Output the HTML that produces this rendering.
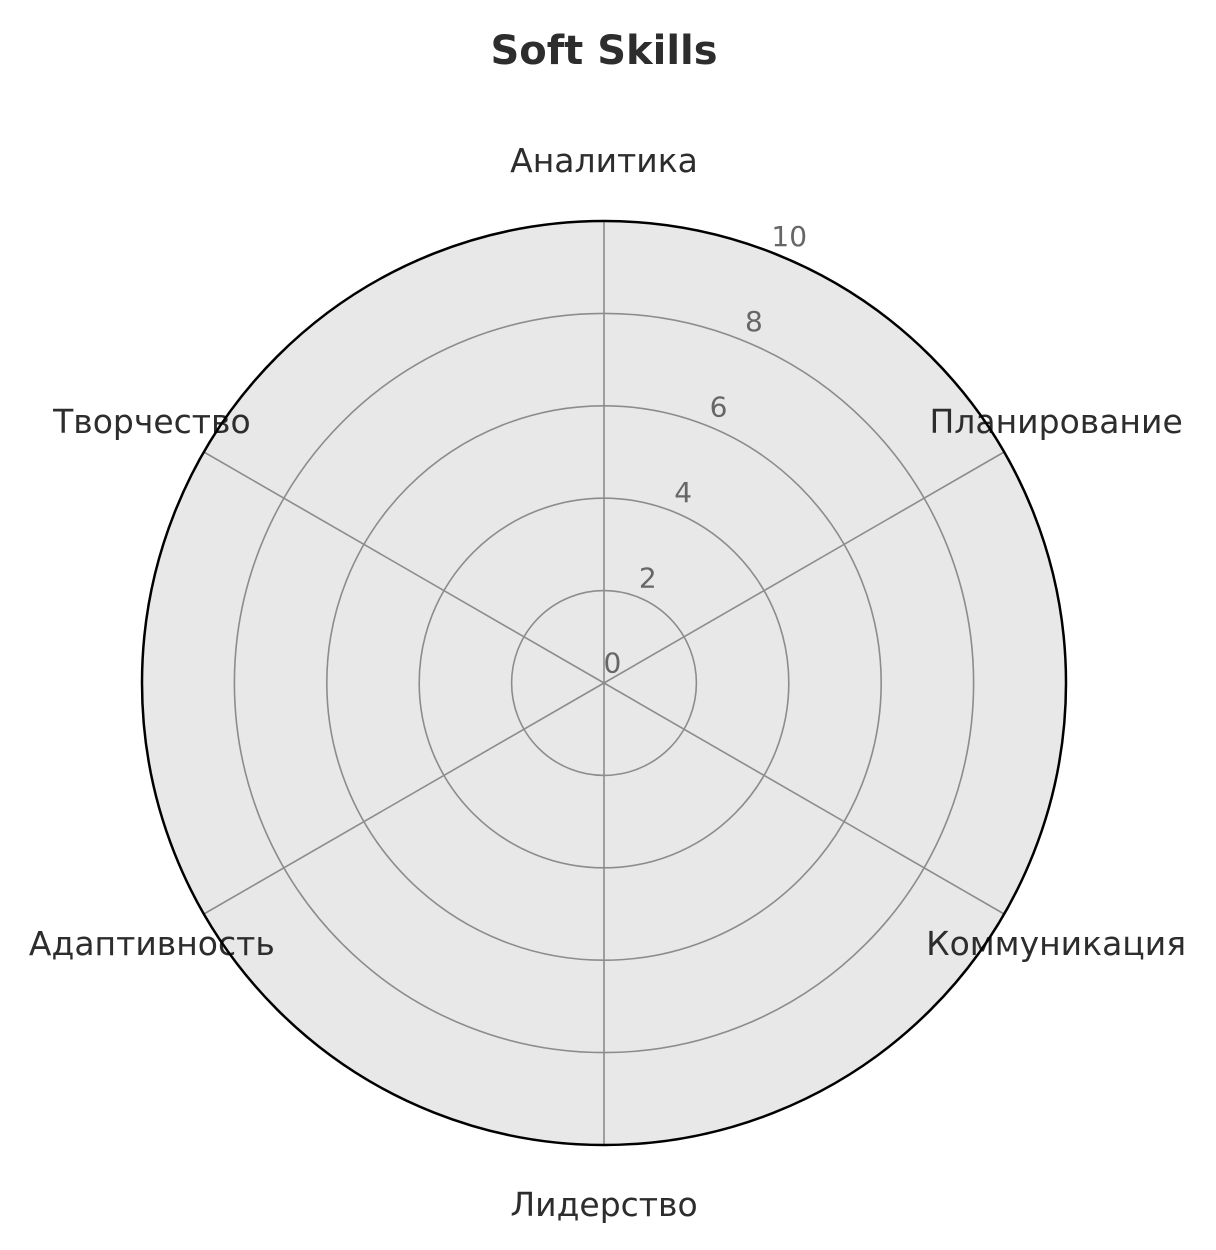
<!DOCTYPE html>
<html><head><meta charset="utf-8">
<style>
html,body{margin:0;padding:0;background:#fff;}
svg{display:block;font-family:"DejaVu Sans","Liberation Sans",sans-serif;}
</style></head>
<body>
<svg id="chart" width="1216" height="1250" viewBox="0 0 1216 1250">
<text x="604" y="64" text-anchor="middle" font-size="40" font-weight="bold" fill="#2d2d2d">Soft Skills</text>
<g id="grid"></g>
</svg>
<script>
const categories = ["Аналитика","Планирование","Коммуникация","Лидерство","Адаптивность","Творчество"];
const tickValues = [0,2,4,6,8,10];
const tickLabels = ["0","2","4","6","8","10"];
const rMax = 10;
const cx = 604, cy = 683, R = 462;
const NS = "http://www.w3.org/2000/svg";
const g = document.getElementById("grid");
function rScale(v){ return v / rMax * R; }
function angleFor(i){ return (i / categories.length) * 2 * Math.PI; }
function pt(v, a){ return [cx + rScale(v)*Math.sin(a), cy - rScale(v)*Math.cos(a)]; }
function mk(tag, attrs){ const e = document.createElementNS(NS, tag); for (const k in attrs) e.setAttribute(k, attrs[k]); g.appendChild(e); return e; }

const bg = mk("circle", {cx:cx, cy:cy, r:R, fill:"#e8e8e8"});



tickValues.forEach((v) => {
  if (v <= 0 || v >= rMax) return;
  const c = mk("circle", {cx:cx, cy:cy, r:rScale(v), fill:"none", stroke:"#8c8c8c", "stroke-width":1.6});
  
  
});

categories.forEach((name, i) => {
  const a = angleFor(i);
  const [x, y] = pt(rMax, a);
  const l = mk("line", {x1:cx, y1:cy, x2:x, y2:y, stroke:"#8c8c8c", "stroke-width":1.6});
  
  
  const [lx, ly] = pt(rMax * 1.13, a);
  const t = mk("text", {x:lx, y:ly + 11, "text-anchor":"middle", "font-size":33, fill:"#2d2d2d"});
  t.textContent = name;
  
  
});

const outer = mk("circle", {cx:cx, cy:cy, r:R, fill:"none", stroke:"#000", "stroke-width":2.5});



const labA = 22.5 * Math.PI / 180;
tickValues.forEach((v, i) => {
  const d = rScale(v) + 22;
  const x = cx + d * Math.sin(labA), y = cy - d * Math.cos(labA);
  const t = mk("text", {x:x, y:y + 10, "text-anchor":"middle", "font-size":28, fill:"#666"});
  t.textContent = tickLabels[i];
  
  
});
</script>
</body></html>
